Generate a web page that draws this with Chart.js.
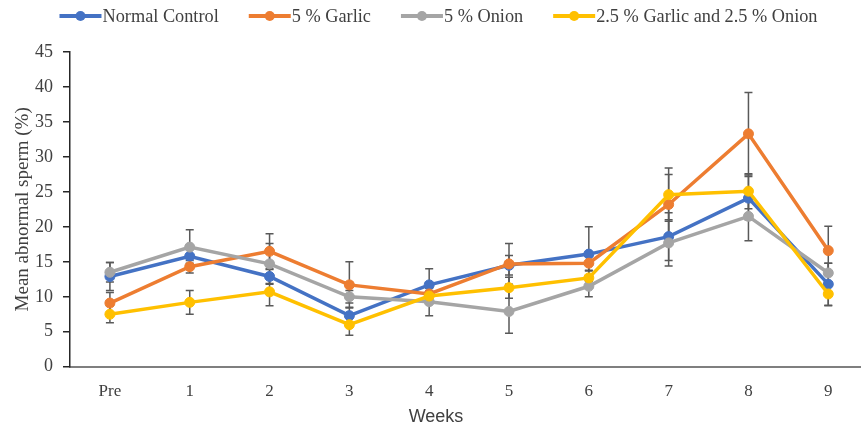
<!DOCTYPE html>
<html>
<head>
<meta charset="utf-8">
<title>Mean abnormal sperm</title>
<script src="https://cdn.jsdelivr.net/npm/chart.js@4.4.1/dist/chart.umd.min.js"></script>
<style>
  html, body { margin: 0; padding: 0; background: #fff; overflow: hidden; }
  #wrap { width: 861px; height: 430px; position: relative; }
</style>
</head>
<body>
<div id="wrap"><canvas id="chart"></canvas></div>
<script>
// Week labels along the x axis
const weeks = ['Pre', '1', '2', '3', '4', '5', '6', '7', '8', '9'];

// Mean abnormal sperm (%) per group
const normalControl = [12.9, 15.8, 12.9, 7.3, 11.7, 14.5, 16.1, 18.6, 24.1, 11.8];
const garlic5       = [9.1, 14.3, 16.5, 11.7, 10.4, 14.7, 14.8, 23.2, 33.3, 16.6];
const onion5        = [13.5, 17.1, 14.7, 10.0, 9.3, 7.9, 11.5, 17.7, 21.5, 13.4];
const garlicOnion   = [7.5, 9.2, 10.7, 6.0, 10.1, 11.3, 12.7, 24.6, 25.1, 10.4];

// Standard error for each group
const normalControlErr = [2.0, 1.0, 1.0, 1.2, 2.3, 1.4, 3.9, 3.4, 3.1, 3.0];
const garlic5Err       = [1.5, 0.9, 2.5, 3.3, 0.8, 2.9, 1.0, 4.3, 5.9, 3.5];
const onion5Err        = [1.4, 2.5, 2.9, 0.9, 2.0, 3.1, 1.5, 3.3, 3.5, 1.4];
const garlicOnionErr   = [1.2, 1.7, 2.0, 1.5, 0.8, 1.5, 1.0, 3.8, 2.5, 1.7];

// Y axis range
const yMin = 0, yMax = 45, yStep = 5;

const seriesNames = ['Normal Control', '5 % Garlic', '5 % Onion', '2.5 % Garlic and 2.5 % Onion'];
const seriesColors = ['#4472C4', '#ED7D31', '#A5A5A5', '#FFC000'];
const seriesValues = [normalControl, garlic5, onion5, garlicOnion];
const seriesErrors = [normalControlErr, garlic5Err, onion5Err, garlicOnionErr];

const serif = '"Liberation Serif", "Times New Roman", serif';
const textColor = '#404040';

const datasets = seriesValues.map((vals, k) => ({
  label: seriesNames[k],
  data: vals.map((v, i) => ({ x: i, y: v })),
  errors: seriesErrors[k],
  borderColor: seriesColors[k],
  backgroundColor: seriesColors[k],
  pointBackgroundColor: seriesColors[k],
  pointBorderColor: seriesColors[k],
  borderWidth: 3.5,
  pointRadius: 5,
  pointBorderWidth: 1,
  tension: 0,
  clip: false,
  // later groups sit on top of earlier ones
  order: seriesValues.length - k
}));

// Vertical error bars with caps, drawn under the lines
const errorBars = {
  id: 'errorBars',
  beforeDatasetsDraw(chart) {
    const { ctx, scales: { x, y } } = chart;
    ctx.save();
    ctx.strokeStyle = '#595959';
    ctx.lineWidth = 1.5;
    chart.data.datasets.forEach(ds => {
      ds.data.forEach((pt, i) => {
        const e = ds.errors[i];
        const px = x.getPixelForValue(pt.x);
        const top = y.getPixelForValue(pt.y + e);
        const bot = y.getPixelForValue(pt.y - e);
        ctx.beginPath();
        ctx.moveTo(px, top); ctx.lineTo(px, bot);
        ctx.moveTo(px - 4, top); ctx.lineTo(px + 4, top);
        ctx.moveTo(px - 4, bot); ctx.lineTo(px + 4, bot);
        ctx.stroke();
      });
    });
    ctx.restore();
  }
};

// Legend row across the top and the x axis caption
const legendAndCaption = {
  id: 'legendAndCaption',
  afterDraw(chart) {
    const { ctx } = chart;
    ctx.save();
    ctx.font = '18.3px ' + serif;
    ctx.textBaseline = 'middle';
    const sample = 42, gapText = 1, gapItem = 30, cy = 16;
    const widths = seriesNames.map(n => ctx.measureText(n).width);
    const total = widths.reduce((a, w) => a + sample + gapText + w, 0) + gapItem * (seriesNames.length - 1);
    let x = 438.5 - total / 2;
    seriesNames.forEach((name, k) => {
      ctx.strokeStyle = seriesColors[k];
      ctx.fillStyle = seriesColors[k];
      ctx.lineWidth = 4;
      ctx.beginPath();
      ctx.moveTo(x, cy); ctx.lineTo(x + sample, cy);
      ctx.stroke();
      ctx.beginPath();
      ctx.arc(x + sample / 2, cy, 5, 0, Math.PI * 2);
      ctx.fill();
      ctx.fillStyle = textColor;
      ctx.textAlign = 'left';
      ctx.fillText(name, x + sample + gapText, cy + 1);
      x += sample + gapText + widths[k] + gapItem;
    });
    ctx.font = '18px "Liberation Sans", Arial, sans-serif';
    ctx.textAlign = 'center';
    ctx.fillStyle = textColor;
    ctx.fillText('Weeks', 436, 417);
    ctx.restore();
  }
};

new Chart(document.getElementById('chart'), {
  type: 'line',
  data: { datasets },
  options: {
    responsive: true,
    maintainAspectRatio: false,
    animation: false,
    layout: { autoPadding: false, padding: { top: 52, left: 0, right: 0, bottom: 0 } },
    plugins: {
      legend: { display: false },
      tooltip: { enabled: false }
    },
    scales: {
      x: {
        type: 'linear',
        min: -0.5,
        max: 9.41,
        afterBuildTicks(scale) {
          scale.ticks = weeks.map((_, i) => ({ value: i }));
        },
        afterFit(scale) {
          scale.height = 63.3;
          scale.paddingLeft = 0;
          scale.paddingRight = 0;
        },
        grid: { display: false },
        border: { display: true, color: '#7F7F7F', width: 2 },
        ticks: {
          autoSkip: false,
          maxRotation: 0,
          padding: 7,
          color: textColor,
          font: { family: serif, size: 17 },
          callback: v => weeks[v]
        }
      },
      y: {
        min: yMin,
        max: yMax,
        afterFit(scale) { scale.width = 70; },
        grid: {
          display: true,
          drawOnChartArea: false,
          drawTicks: true,
          tickLength: 7,
          color: '#262626',
          lineWidth: 1.5
        },
        border: { display: true, color: '#262626', width: 1.5 },
        ticks: {
          stepSize: yStep,
          padding: 10,
          color: textColor,
          font: { family: serif, size: 18 }
        },
        title: {
          display: true,
          text: 'Mean abnormal sperm (%)',
          color: textColor,
          font: { family: serif, size: 19 },
          padding: { top: 12, bottom: 0 }
        }
      }
    }
  },
  plugins: [errorBars, legendAndCaption]
});
</script>
</body>
</html>
